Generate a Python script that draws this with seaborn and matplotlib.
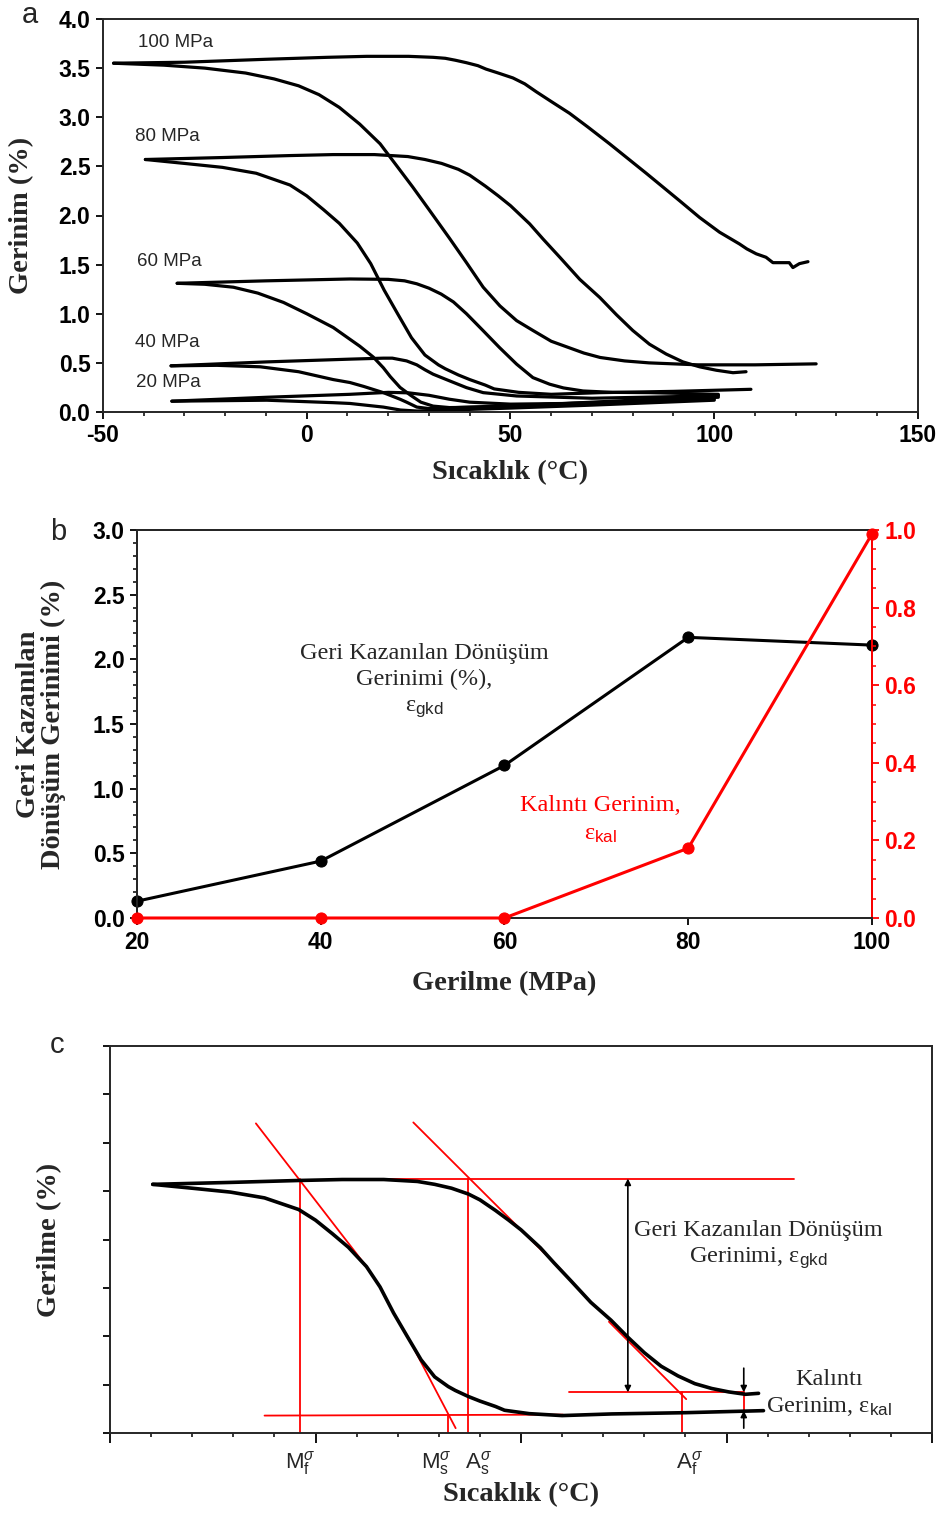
import numpy as np
import pandas as pd
import matplotlib
matplotlib.use("Agg")
import matplotlib.pyplot as plt
import seaborn as sns
from matplotlib.ticker import MultipleLocator, NullFormatter

# ---------------- data (panel a : strain vs temperature loops) ----------------
stresses = [100, 80, 60, 40, 20]

T100_cool = [125, 110, 96, 84, 78, 72, 68, 60, 55.5, 51.5, 47.4, 43.3, 39.2, 35, 30, 26, 22, 18, 13, 8, 3, -2, -8, -15, -25, -35, -47.4]
s100_cool = [0.49, 0.48, 0.48, 0.50, 0.52, 0.555, 0.60, 0.72, 0.83, 0.93, 1.08, 1.27, 1.52, 1.77, 2.06, 2.29, 2.51, 2.73, 2.93, 3.10, 3.23, 3.32, 3.39, 3.45, 3.50, 3.53, 3.55]
T100_heat = [-47.4, -30, -10, 5, 14.7, 25, 31, 34, 36.5, 39.2, 42, 44, 47, 50.6, 53.5, 56.3, 60, 64.5, 69, 74.3, 83.3, 91.5, 96.4, 101.3, 106.2, 108, 110.3, 112.7, 114.4, 118.4, 119.3, 120.9, 123]
s100_heat = [3.55, 3.56, 3.59, 3.61, 3.62, 3.62, 3.61, 3.60, 3.58, 3.555, 3.525, 3.49, 3.45, 3.40, 3.34, 3.26, 3.16, 3.04, 2.90, 2.73, 2.43, 2.15, 1.98, 1.83, 1.71, 1.66, 1.61, 1.575, 1.52, 1.52, 1.47, 1.51, 1.53]

T80_cool = [109, 90, 72, 60, 52, 46, 43.8, 40, 37.2, 34, 32.3, 29, 25.7, 22.3, 19, 15.7, 12.4, 8, 4.1, 0, -4.1, -12.4, -20.7, -30, -39.6]
s80_cool = [0.231, 0.21, 0.197, 0.18, 0.20, 0.235, 0.274, 0.33, 0.377, 0.44, 0.48, 0.58, 0.756, 1.0, 1.24, 1.51, 1.72, 1.92, 2.06, 2.20, 2.31, 2.43, 2.49, 2.53, 2.57]
T80_heat = [-39.6, -20.7, -4.1, 6.5, 16.6, 24.8, 29, 33.1, 37.2, 40, 43.8, 47, 50, 54.7, 58, 62.1, 67, 71.9, 76, 80, 84.1, 88.2, 92.3, 96.4, 100.5, 104.6, 107.8]
s80_heat = [2.57, 2.59, 2.61, 2.62, 2.62, 2.60, 2.57, 2.53, 2.47, 2.41, 2.30, 2.20, 2.10, 1.915, 1.76, 1.575, 1.35, 1.166, 0.99, 0.83, 0.69, 0.59, 0.51, 0.46, 0.425, 0.40, 0.41]

T60_cool = [101, 80, 60, 45, 35, 31, 28, 25.5, 22.9, 20.5, 18.8, 16.3, 13, 10.6, 6.5, 0, -5.7, -12, -18, -25, -31.8]
s60_cool = [0.17, 0.12, 0.08, 0.05, 0.045, 0.06, 0.10, 0.17, 0.25, 0.36, 0.45, 0.56, 0.67, 0.74, 0.86, 1.00, 1.115, 1.21, 1.27, 1.30, 1.31]
T60_heat = [-31.8, -10, 10.6, 20, 24, 27, 30, 33, 36, 39.2, 43.3, 47.3, 51.5, 55.5, 59.6, 63, 67.8, 75, 84, 101]
s60_heat = [1.31, 1.335, 1.354, 1.35, 1.335, 1.305, 1.26, 1.20, 1.12, 1.0, 0.827, 0.656, 0.487, 0.35, 0.283, 0.245, 0.214, 0.20, 0.197, 0.18]

T40_cool = [101, 80, 60, 40, 30, 27, 24.5, 22.9, 18.8, 14, 10.6, 6.5, -2, -11.4, -22, -33.3]
s40_cool = [0.15, 0.11, 0.08, 0.05, 0.035, 0.05, 0.10, 0.13, 0.197, 0.26, 0.30, 0.33, 0.41, 0.46, 0.475, 0.47]
T40_heat = [-33.3, -9.8, 10.6, 18.8, 21, 24.5, 27, 29, 31, 35.1, 39.2, 43.3, 51.5, 70, 101]
s40_heat = [0.47, 0.51, 0.538, 0.548, 0.548, 0.52, 0.48, 0.43, 0.385, 0.316, 0.248, 0.197, 0.163, 0.14, 0.165]

T20_cool = [100, 70, 50, 35, 27, 23, 18.8, 10.6, 6.5, -9.8, -33.1]
s20_cool = [0.12, 0.07, 0.04, 0.02, 0.01, 0.02, 0.05, 0.087, 0.095, 0.12, 0.11]
T20_heat = [-33.1, -9.8, 10.6, 20, 25, 30, 35, 40, 50, 70, 100]
s20_heat = [0.11, 0.15, 0.18, 0.20, 0.195, 0.17, 0.13, 0.10, 0.08, 0.09, 0.13]

# ---------------- data (panel b) ----------------
stress_b = [20, 40, 60, 80, 100]
recovered = [0.13, 0.44, 1.18, 2.17, 2.11]
residual = [0.0, 0.0, 0.0, 0.18, 0.99]

# ---------------- characteristic values (panel c, 80 MPa loop) ----------------
Mf, Ms, As, Af = -3.7, 32.3, 37.0, 89.2
eps_top, eps_low, eps_res = 2.63, 0.18, 0.42

branches = {
    100: [(T100_cool, s100_cool), (T100_heat, s100_heat)],
    80: [(T80_cool, s80_cool), (T80_heat, s80_heat)],
    60: [(T60_cool, s60_cool), (T60_heat, s60_heat)],
    40: [(T40_cool, s40_cool), (T40_heat, s40_heat)],
    20: [(T20_cool, s20_cool), (T20_heat, s20_heat)],
}

# ---------------- style ----------------
sns.set_theme(style="ticks")
plt.rcParams["font.family"] = ["Liberation Sans", "DejaVu Sans"]
plt.rcParams["mathtext.fontset"] = "custom"
plt.rcParams["mathtext.rm"] = "Liberation Sans"
plt.rcParams["mathtext.it"] = "Liberation Sans:italic"
plt.rcParams["mathtext.bf"] = "Liberation Sans:bold"
plt.rcParams["axes.linewidth"] = 1.4
SERIF = ["Liberation Serif", "DejaVu Serif"]
LBL = 20.5
TICK = 16.5
NOTE = 17.5
W, H = 937, 1513
fig = plt.figure(figsize=(W / 100, H / 100), dpi=100)


def frac(l, t, r, b):
    return [l / W, 1 - b / H, (r - l) / W, (b - t) / H]


def style_ticks(ax, color="black"):
    ax.tick_params(axis="both", which="major", direction="out", length=5, width=1.3,
                   labelsize=TICK, colors=color, pad=4)
    ax.tick_params(axis="both", which="minor", direction="out", length=3, width=1.1, colors=color)


def bold_labels(ax):
    for lab in ax.get_xticklabels() + ax.get_yticklabels():
        lab.set_fontweight("bold")


# ================= panel a =================
axa = fig.add_axes(frac(103, 19, 918, 412))
for st in stresses:
    for T, s in branches[st]:
        d = pd.DataFrame({"T": T, "s": s})
        sns.lineplot(data=d, x="T", y="s", sort=False, estimator=None, color="black",
                     lw=2.3, ax=axa, solid_capstyle="round", solid_joinstyle="round")
axa.set_xlim(-50, 150)
axa.set_ylim(0, 4.0)
axa.xaxis.set_major_locator(MultipleLocator(50))
axa.xaxis.set_minor_locator(MultipleLocator(10))
axa.yaxis.set_major_locator(MultipleLocator(0.5))
axa.xaxis.set_major_formatter(plt.FuncFormatter(lambda v, p: f"{v:.0f}"))
axa.yaxis.set_major_formatter(plt.FuncFormatter(lambda v, p: f"{v:.1f}"))
style_ticks(axa)
bold_labels(axa)
axa.set_xlabel("Sıcaklık (°C)", family=SERIF, fontweight="bold", fontsize=LBL)
axa.set_ylabel("Gerinim (%)", family=SERIF, fontweight="bold", fontsize=LBL)
axa.xaxis.set_label_coords(0.5, -0.122)
axa.yaxis.set_label_coords(-0.085, 0.5)
lab_pos = {100: (-32.3, 3.76), 80: (-34.3, 2.80), 60: (-33.6, 1.53), 40: (-34.3, 0.71), 20: (-34.0, 0.30)}
for st in stresses:
    x, y = lab_pos[st]
    axa.text(x, y, f"{st} MPa", ha="center", va="center", fontsize=13.5)

# ================= panel b =================
axb = fig.add_axes(frac(137, 530, 872, 918))
dfb = pd.DataFrame({"stress": stress_b, "recovered": recovered, "residual": residual})
sns.lineplot(data=dfb, x="stress", y="recovered", ax=axb, color="black", lw=2.2,
             marker="o", markersize=8, markeredgecolor="black", clip_on=False, zorder=5)
axb.set_xlim(20, 100)
axb.set_ylim(0, 3.0)
axb.xaxis.set_major_locator(MultipleLocator(20))
axb.yaxis.set_major_locator(MultipleLocator(0.5))
axb.yaxis.set_minor_locator(MultipleLocator(0.1))
axb.yaxis.set_major_formatter(plt.FuncFormatter(lambda v, p: f"{v:.1f}"))
style_ticks(axb)
bold_labels(axb)
axb.set_xlabel("Gerilme (MPa)", family=SERIF, fontweight="bold", fontsize=LBL)
axb.set_ylabel("Geri Kazanılan\nDönüşüm Gerinimi (%)", family=SERIF, fontweight="bold",
               fontsize=LBL, linespacing=1.0)
axb.xaxis.set_label_coords(0.5, -0.138)
axb.yaxis.set_label_coords(-0.097, 0.5)
axb.text(51.3, 1.83, "Geri Kazanılan Dönüşüm\nGerinimi (%),\nε$_{\\rm gkd}$", ha="center",
         va="center", family=SERIF, fontsize=NOTE, linespacing=1.3,
         bbox=dict(facecolor="white", edgecolor="none", pad=2), zorder=3)

axr = axb.twinx()
sns.lineplot(data=dfb, x="stress", y="residual", ax=axr, color="red", lw=2.2,
             marker="o", markersize=8, markeredgecolor="red", clip_on=False, zorder=6)
axr.set_ylim(0, 1.0)
axr.yaxis.set_major_locator(MultipleLocator(0.2))
axr.yaxis.set_minor_locator(MultipleLocator(0.05))
axr.yaxis.set_major_formatter(plt.FuncFormatter(lambda v, p: f"{v:.1f}"))
axr.set_ylabel("")
style_ticks(axr, color="red")
bold_labels(axr)
axr.tick_params(axis="y", labelcolor="red")
axr.spines["right"].set_color("red")
axr.text(70.4, 0.253, "Kalıntı Gerinim,\nε$_{\\rm kal}$", ha="center", va="center",
         family=SERIF, fontsize=NOTE, color="red", linespacing=1.45,
         bbox=dict(facecolor="white", edgecolor="none", pad=2), zorder=3)

# ================= panel c =================
axc = fig.add_axes(frac(110, 1046, 932, 1433))
red_kw = dict(color="red", lw=1.3, zorder=1)
axc.plot([-14.5, 12.4], [3.20, 1.72], **red_kw)          # Mf tangent
axc.plot([22.0, 34.1], [1.03, 0.05], **red_kw)           # Ms tangent
axc.plot([23.8, 59.9], [3.21, 1.68], **red_kw)           # As tangent
axc.plot([71.4, 90.2], [1.15, 0.35], **red_kw)           # Af tangent
axc.plot([14.8, 116.4], [eps_top, eps_top], **red_kw)
axc.plot([-12.4, 60.2], [eps_low, eps_low + 0.01], **red_kw)
axc.plot([61.8, 104.3], [eps_res, eps_res], **red_kw)
axc.plot([Mf, Mf], [0, eps_top], **red_kw)
axc.plot([Ms, Ms], [0, eps_low], **red_kw)
axc.plot([As, As], [0, eps_top], **red_kw)
axc.plot([Af, Af], [0, eps_res], **red_kw)
axc.plot([104.2, 104.2], [eps_res, 0.23], **red_kw)
for T, s in branches[80]:
    d = pd.DataFrame({"T": T, "s": s})
    sns.lineplot(data=d, x="T", y="s", sort=False, estimator=None, color="black",
                 lw=2.6, ax=axc, zorder=2, solid_capstyle="round", solid_joinstyle="round")
arr = dict(arrowstyle="<|-|>", color="black", lw=1.2, mutation_scale=9, shrinkA=0, shrinkB=0)
axc.annotate("", xy=(76, eps_res), xytext=(76, eps_top), arrowprops=arr)
arr1 = dict(arrowstyle="-|>", color="black", lw=1.2, mutation_scale=9, shrinkA=0, shrinkB=0)
axc.annotate("", xy=(104.2, eps_res), xytext=(104.2, 0.67), arrowprops=arr1)
axc.annotate("", xy=(104.2, 0.23), xytext=(104.2, 0.05), arrowprops=arr1)
axc.text(107.8, 1.94, "Geri Kazanılan Dönüşüm\nGerinimi, ε$_{\\rm gkd}$", ha="center",
         va="center", family=SERIF, fontsize=NOTE, linespacing=1.3)
axc.text(125, 0.405, "Kalıntı\nGerinim, ε$_{\\rm kal}$", ha="center", va="center",
         family=SERIF, fontsize=NOTE, linespacing=1.3)
axc.set_xlim(-50, 150)
axc.set_ylim(0, 4.0)
axc.xaxis.set_major_locator(MultipleLocator(50))
axc.xaxis.set_minor_locator(MultipleLocator(10))
axc.yaxis.set_major_locator(MultipleLocator(0.5))
axc.xaxis.set_major_formatter(NullFormatter())
axc.yaxis.set_major_formatter(NullFormatter())
style_ticks(axc)
axc.tick_params(axis="x", which="major", length=7)
axc.set_xlabel("Sıcaklık (°C)", family=SERIF, fontweight="bold", fontsize=LBL)
axc.set_ylabel("Gerilme (%)", family=SERIF, fontweight="bold", fontsize=LBL)
axc.xaxis.set_label_coords(0.5, -0.128)
axc.yaxis.set_label_coords(-0.058, 0.5)
for name, sub, T in [("M", "f", Mf), ("M", "s", 29.5), ("A", "s", 39.6), ("A", "f", 91.0)]:
    axc.text(T, -0.17, f"{name}$_{{\\rm {sub}}}^{{\\sigma}}$", ha="center", va="top",
             fontsize=16, clip_on=False)

# panel letters
fig.text(30 / W, 1 - 15 / H, "a", fontsize=21, ha="center", va="center")
fig.text(58 / W, 1 - 532 / H, "b", fontsize=21, ha="center", va="center")
fig.text(57 / W, 1 - 1045 / H, "c", fontsize=21, ha="center", va="center")

fig.savefig("out.png", dpi=100)
